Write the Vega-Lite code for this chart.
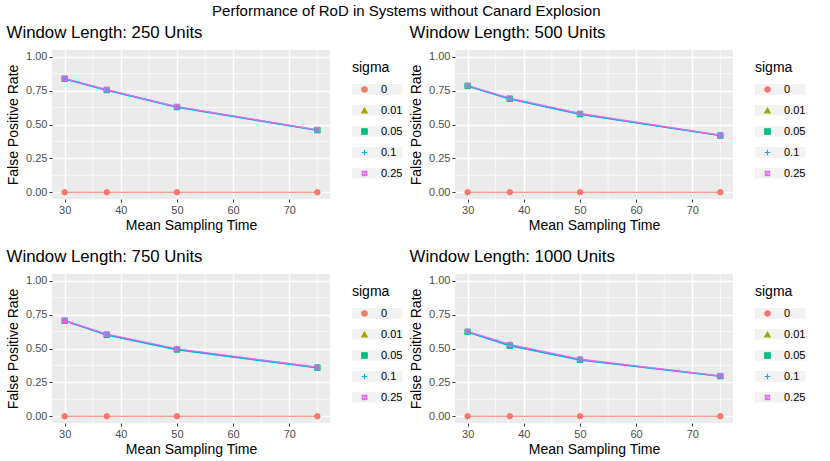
{
  "$schema": "https://vega.github.io/schema/vega-lite/v6.json",
  "title": {"text": "Performance of RoD in Systems without Canard Explosion", "anchor": "middle", "fontSize": 15, "offset": 6},
  "padding": {"left": 6, "top": 3, "right": 5, "bottom": 5},
  "datasets": {
    "minx": [{"v": 35}, {"v": 45}, {"v": 55}, {"v": 65}, {"v": 75}],
    "miny": [{"v": 0.125}, {"v": 0.375}, {"v": 0.625}, {"v": 0.875}],
    "fpr": [
      {"w": 250, "t": 30, "s": "0", "r": 0}, {"w": 250, "t": 37.5, "s": "0", "r": 0}, {"w": 250, "t": 50, "s": "0", "r": 0}, {"w": 250, "t": 75, "s": "0", "r": 0},
      {"w": 250, "t": 30, "s": "0.01", "r": 0.838}, {"w": 250, "t": 37.5, "s": "0.01", "r": 0.756}, {"w": 250, "t": 50, "s": "0.01", "r": 0.630}, {"w": 250, "t": 75, "s": "0.01", "r": 0.459},
      {"w": 250, "t": 30, "s": "0.05", "r": 0.838}, {"w": 250, "t": 37.5, "s": "0.05", "r": 0.755}, {"w": 250, "t": 50, "s": "0.05", "r": 0.629}, {"w": 250, "t": 75, "s": "0.05", "r": 0.459},
      {"w": 250, "t": 30, "s": "0.1", "r": 0.835}, {"w": 250, "t": 37.5, "s": "0.1", "r": 0.752}, {"w": 250, "t": 50, "s": "0.1", "r": 0.626}, {"w": 250, "t": 75, "s": "0.1", "r": 0.456},
      {"w": 250, "t": 30, "s": "0.25", "r": 0.840}, {"w": 250, "t": 37.5, "s": "0.25", "r": 0.758}, {"w": 250, "t": 50, "s": "0.25", "r": 0.632}, {"w": 250, "t": 75, "s": "0.25", "r": 0.461},
      {"w": 500, "t": 30, "s": "0", "r": 0}, {"w": 500, "t": 37.5, "s": "0", "r": 0}, {"w": 500, "t": 50, "s": "0", "r": 0}, {"w": 500, "t": 75, "s": "0", "r": 0},
      {"w": 500, "t": 30, "s": "0.01", "r": 0.786}, {"w": 500, "t": 37.5, "s": "0.01", "r": 0.692}, {"w": 500, "t": 50, "s": "0.01", "r": 0.578}, {"w": 500, "t": 75, "s": "0.01", "r": 0.420},
      {"w": 500, "t": 30, "s": "0.05", "r": 0.785}, {"w": 500, "t": 37.5, "s": "0.05", "r": 0.690}, {"w": 500, "t": 50, "s": "0.05", "r": 0.577}, {"w": 500, "t": 75, "s": "0.05", "r": 0.419},
      {"w": 500, "t": 30, "s": "0.1", "r": 0.783}, {"w": 500, "t": 37.5, "s": "0.1", "r": 0.687}, {"w": 500, "t": 50, "s": "0.1", "r": 0.574}, {"w": 500, "t": 75, "s": "0.1", "r": 0.418},
      {"w": 500, "t": 30, "s": "0.25", "r": 0.788}, {"w": 500, "t": 37.5, "s": "0.25", "r": 0.695}, {"w": 500, "t": 50, "s": "0.25", "r": 0.582}, {"w": 500, "t": 75, "s": "0.25", "r": 0.421},
      {"w": 750, "t": 30, "s": "0", "r": 0}, {"w": 750, "t": 37.5, "s": "0", "r": 0}, {"w": 750, "t": 50, "s": "0", "r": 0}, {"w": 750, "t": 75, "s": "0", "r": 0},
      {"w": 750, "t": 30, "s": "0.01", "r": 0.706}, {"w": 750, "t": 37.5, "s": "0.01", "r": 0.603}, {"w": 750, "t": 50, "s": "0.01", "r": 0.494}, {"w": 750, "t": 75, "s": "0.01", "r": 0.360},
      {"w": 750, "t": 30, "s": "0.05", "r": 0.705}, {"w": 750, "t": 37.5, "s": "0.05", "r": 0.602}, {"w": 750, "t": 50, "s": "0.05", "r": 0.493}, {"w": 750, "t": 75, "s": "0.05", "r": 0.359},
      {"w": 750, "t": 30, "s": "0.1", "r": 0.703}, {"w": 750, "t": 37.5, "s": "0.1", "r": 0.599}, {"w": 750, "t": 50, "s": "0.1", "r": 0.490}, {"w": 750, "t": 75, "s": "0.1", "r": 0.356},
      {"w": 750, "t": 30, "s": "0.25", "r": 0.708}, {"w": 750, "t": 37.5, "s": "0.25", "r": 0.606}, {"w": 750, "t": 50, "s": "0.25", "r": 0.498}, {"w": 750, "t": 75, "s": "0.25", "r": 0.362},
      {"w": 1000, "t": 30, "s": "0", "r": 0}, {"w": 1000, "t": 37.5, "s": "0", "r": 0}, {"w": 1000, "t": 50, "s": "0", "r": 0}, {"w": 1000, "t": 75, "s": "0", "r": 0},
      {"w": 1000, "t": 30, "s": "0.01", "r": 0.624}, {"w": 1000, "t": 37.5, "s": "0.01", "r": 0.524}, {"w": 1000, "t": 50, "s": "0.01", "r": 0.418}, {"w": 1000, "t": 75, "s": "0.01", "r": 0.297},
      {"w": 1000, "t": 30, "s": "0.05", "r": 0.623}, {"w": 1000, "t": 37.5, "s": "0.05", "r": 0.522}, {"w": 1000, "t": 50, "s": "0.05", "r": 0.417}, {"w": 1000, "t": 75, "s": "0.05", "r": 0.296},
      {"w": 1000, "t": 30, "s": "0.1", "r": 0.621}, {"w": 1000, "t": 37.5, "s": "0.1", "r": 0.519}, {"w": 1000, "t": 50, "s": "0.1", "r": 0.414}, {"w": 1000, "t": 75, "s": "0.1", "r": 0.294},
      {"w": 1000, "t": 30, "s": "0.25", "r": 0.626}, {"w": 1000, "t": 37.5, "s": "0.25", "r": 0.530}, {"w": 1000, "t": 50, "s": "0.25", "r": 0.422}, {"w": 1000, "t": 75, "s": "0.25", "r": 0.298}
    ]
  },
  "columns": 2,
  "spacing": {"row": 16, "column": 6},
  "resolve": {"scale": {"stroke": "independent", "fill": "independent", "shape": "independent"}},
  "concat": [
    {
      "title": "Window Length: 250 Units",
      "width": 278, "height": 149,
      "layer": [
        {"data": {"name": "minx"}, "mark": {"type": "rule", "color": "white", "strokeWidth": 0.7},
         "encoding": {"x": {"field": "v", "type": "quantitative", "title": "Mean Sampling Time", "scale": {"domain": [27.75, 77.25], "nice": false, "zero": false}, "axis": {"values": [30, 40, 50, 60, 70]}}}},
        {"data": {"name": "miny"}, "mark": {"type": "rule", "color": "white", "strokeWidth": 0.7},
         "encoding": {"y": {"field": "v", "type": "quantitative", "title": "False Positive Rate", "scale": {"domain": [-0.05, 1.05], "nice": false, "zero": false}, "axis": {"values": [0, 0.25, 0.5, 0.75, 1], "format": ".2f"}}}},
        {"data": {"name": "fpr"}, "transform": [{"filter": "datum.w == 250"}], "mark": {"type": "line", "strokeWidth": 1.2},
         "encoding": {
           "x": {"field": "t", "type": "quantitative", "title": "Mean Sampling Time", "scale": {"domain": [27.75, 77.25], "nice": false, "zero": false}, "axis": {"values": [30, 40, 50, 60, 70]}},
           "y": {"field": "r", "type": "quantitative", "title": "False Positive Rate", "scale": {"domain": [-0.05, 1.05], "nice": false, "zero": false}, "axis": {"values": [0, 0.25, 0.5, 0.75, 1], "format": ".2f"}},
           "stroke": {"field": "s", "type": "nominal", "title": "sigma", "scale": {"domain": ["0", "0.01", "0.05", "0.1", "0.25"], "range": ["#F8766D", "#A3A500", "#00BF7D", "#00B0F6", "#E76BF3"]},
             "legend": {"orient": "none", "legendX": 300, "legendY": 11, "symbolSize": 30, "symbolStrokeWidth": 1.2, "symbolOffset": 7,
               "encode": {"entries": {"update": {"fill": {"value": "#F2F2F2"}, "width": {"value": 20}, "height": {"value": 20}}}}}}
         }},
        {"data": {"name": "fpr"}, "transform": [{"filter": "datum.w == 250"}], "mark": {"type": "point", "size": 30, "strokeWidth": 1, "opacity": 1},
         "encoding": {
           "x": {"field": "t", "type": "quantitative", "title": "Mean Sampling Time", "scale": {"domain": [27.75, 77.25], "nice": false, "zero": false}, "axis": {"values": [30, 40, 50, 60, 70]}},
           "y": {"field": "r", "type": "quantitative", "title": "False Positive Rate", "scale": {"domain": [-0.05, 1.05], "nice": false, "zero": false}, "axis": {"values": [0, 0.25, 0.5, 0.75, 1], "format": ".2f"}},
           "stroke": {"field": "s", "type": "nominal", "title": "sigma"},
           "fill": {"field": "s", "type": "nominal", "legend": null, "scale": {"domain": ["0", "0.01", "0.05", "0.1", "0.25"], "range": ["#F8766D", "#A3A500", "#00BF7D", "transparent", "transparent"]}},
           "shape": {"field": "s", "type": "nominal", "legend": null, "scale": {"domain": ["0", "0.01", "0.05", "0.1", "0.25"], "range": ["circle", "triangle-up", "square", "M-1,0L1,0M0,-1L0,1", "M-0.8,-0.8L0.8,-0.8L0.8,0.8L-0.8,0.8ZM-0.8,-0.8L0.8,0.8M0.8,-0.8L-0.8,0.8"]}}
         }}
      ]
    },
    {
      "title": "Window Length: 500 Units",
      "width": 278, "height": 149,
      "layer": [
        {"data": {"name": "minx"}, "mark": {"type": "rule", "color": "white", "strokeWidth": 0.7},
         "encoding": {"x": {"field": "v", "type": "quantitative", "title": "Mean Sampling Time", "scale": {"domain": [27.75, 77.25], "nice": false, "zero": false}, "axis": {"values": [30, 40, 50, 60, 70]}}}},
        {"data": {"name": "miny"}, "mark": {"type": "rule", "color": "white", "strokeWidth": 0.7},
         "encoding": {"y": {"field": "v", "type": "quantitative", "title": "False Positive Rate", "scale": {"domain": [-0.05, 1.05], "nice": false, "zero": false}, "axis": {"values": [0, 0.25, 0.5, 0.75, 1], "format": ".2f"}}}},
        {"data": {"name": "fpr"}, "transform": [{"filter": "datum.w == 500"}], "mark": {"type": "line", "strokeWidth": 1.2},
         "encoding": {
           "x": {"field": "t", "type": "quantitative", "title": "Mean Sampling Time", "scale": {"domain": [27.75, 77.25], "nice": false, "zero": false}, "axis": {"values": [30, 40, 50, 60, 70]}},
           "y": {"field": "r", "type": "quantitative", "title": "False Positive Rate", "scale": {"domain": [-0.05, 1.05], "nice": false, "zero": false}, "axis": {"values": [0, 0.25, 0.5, 0.75, 1], "format": ".2f"}},
           "stroke": {"field": "s", "type": "nominal", "title": "sigma", "scale": {"domain": ["0", "0.01", "0.05", "0.1", "0.25"], "range": ["#F8766D", "#A3A500", "#00BF7D", "#00B0F6", "#E76BF3"]},
             "legend": {"orient": "none", "legendX": 300, "legendY": 11, "symbolSize": 30, "symbolStrokeWidth": 1.2, "symbolOffset": 7,
               "encode": {"entries": {"update": {"fill": {"value": "#F2F2F2"}, "width": {"value": 20}, "height": {"value": 20}}}}}}
         }},
        {"data": {"name": "fpr"}, "transform": [{"filter": "datum.w == 500"}], "mark": {"type": "point", "size": 30, "strokeWidth": 1, "opacity": 1},
         "encoding": {
           "x": {"field": "t", "type": "quantitative", "title": "Mean Sampling Time", "scale": {"domain": [27.75, 77.25], "nice": false, "zero": false}, "axis": {"values": [30, 40, 50, 60, 70]}},
           "y": {"field": "r", "type": "quantitative", "title": "False Positive Rate", "scale": {"domain": [-0.05, 1.05], "nice": false, "zero": false}, "axis": {"values": [0, 0.25, 0.5, 0.75, 1], "format": ".2f"}},
           "stroke": {"field": "s", "type": "nominal", "title": "sigma"},
           "fill": {"field": "s", "type": "nominal", "legend": null, "scale": {"domain": ["0", "0.01", "0.05", "0.1", "0.25"], "range": ["#F8766D", "#A3A500", "#00BF7D", "transparent", "transparent"]}},
           "shape": {"field": "s", "type": "nominal", "legend": null, "scale": {"domain": ["0", "0.01", "0.05", "0.1", "0.25"], "range": ["circle", "triangle-up", "square", "M-1,0L1,0M0,-1L0,1", "M-0.8,-0.8L0.8,-0.8L0.8,0.8L-0.8,0.8ZM-0.8,-0.8L0.8,0.8M0.8,-0.8L-0.8,0.8"]}}
         }}
      ]
    },
    {
      "title": "Window Length: 750 Units",
      "width": 278, "height": 149,
      "layer": [
        {"data": {"name": "minx"}, "mark": {"type": "rule", "color": "white", "strokeWidth": 0.7},
         "encoding": {"x": {"field": "v", "type": "quantitative", "title": "Mean Sampling Time", "scale": {"domain": [27.75, 77.25], "nice": false, "zero": false}, "axis": {"values": [30, 40, 50, 60, 70]}}}},
        {"data": {"name": "miny"}, "mark": {"type": "rule", "color": "white", "strokeWidth": 0.7},
         "encoding": {"y": {"field": "v", "type": "quantitative", "title": "False Positive Rate", "scale": {"domain": [-0.05, 1.05], "nice": false, "zero": false}, "axis": {"values": [0, 0.25, 0.5, 0.75, 1], "format": ".2f"}}}},
        {"data": {"name": "fpr"}, "transform": [{"filter": "datum.w == 750"}], "mark": {"type": "line", "strokeWidth": 1.2},
         "encoding": {
           "x": {"field": "t", "type": "quantitative", "title": "Mean Sampling Time", "scale": {"domain": [27.75, 77.25], "nice": false, "zero": false}, "axis": {"values": [30, 40, 50, 60, 70]}},
           "y": {"field": "r", "type": "quantitative", "title": "False Positive Rate", "scale": {"domain": [-0.05, 1.05], "nice": false, "zero": false}, "axis": {"values": [0, 0.25, 0.5, 0.75, 1], "format": ".2f"}},
           "stroke": {"field": "s", "type": "nominal", "title": "sigma", "scale": {"domain": ["0", "0.01", "0.05", "0.1", "0.25"], "range": ["#F8766D", "#A3A500", "#00BF7D", "#00B0F6", "#E76BF3"]},
             "legend": {"orient": "none", "legendX": 300, "legendY": 11, "symbolSize": 30, "symbolStrokeWidth": 1.2, "symbolOffset": 7,
               "encode": {"entries": {"update": {"fill": {"value": "#F2F2F2"}, "width": {"value": 20}, "height": {"value": 20}}}}}}
         }},
        {"data": {"name": "fpr"}, "transform": [{"filter": "datum.w == 750"}], "mark": {"type": "point", "size": 30, "strokeWidth": 1, "opacity": 1},
         "encoding": {
           "x": {"field": "t", "type": "quantitative", "title": "Mean Sampling Time", "scale": {"domain": [27.75, 77.25], "nice": false, "zero": false}, "axis": {"values": [30, 40, 50, 60, 70]}},
           "y": {"field": "r", "type": "quantitative", "title": "False Positive Rate", "scale": {"domain": [-0.05, 1.05], "nice": false, "zero": false}, "axis": {"values": [0, 0.25, 0.5, 0.75, 1], "format": ".2f"}},
           "stroke": {"field": "s", "type": "nominal", "title": "sigma"},
           "fill": {"field": "s", "type": "nominal", "legend": null, "scale": {"domain": ["0", "0.01", "0.05", "0.1", "0.25"], "range": ["#F8766D", "#A3A500", "#00BF7D", "transparent", "transparent"]}},
           "shape": {"field": "s", "type": "nominal", "legend": null, "scale": {"domain": ["0", "0.01", "0.05", "0.1", "0.25"], "range": ["circle", "triangle-up", "square", "M-1,0L1,0M0,-1L0,1", "M-0.8,-0.8L0.8,-0.8L0.8,0.8L-0.8,0.8ZM-0.8,-0.8L0.8,0.8M0.8,-0.8L-0.8,0.8"]}}
         }}
      ]
    },
    {
      "title": "Window Length: 1000 Units",
      "width": 278, "height": 149,
      "layer": [
        {"data": {"name": "minx"}, "mark": {"type": "rule", "color": "white", "strokeWidth": 0.7},
         "encoding": {"x": {"field": "v", "type": "quantitative", "title": "Mean Sampling Time", "scale": {"domain": [27.75, 77.25], "nice": false, "zero": false}, "axis": {"values": [30, 40, 50, 60, 70]}}}},
        {"data": {"name": "miny"}, "mark": {"type": "rule", "color": "white", "strokeWidth": 0.7},
         "encoding": {"y": {"field": "v", "type": "quantitative", "title": "False Positive Rate", "scale": {"domain": [-0.05, 1.05], "nice": false, "zero": false}, "axis": {"values": [0, 0.25, 0.5, 0.75, 1], "format": ".2f"}}}},
        {"data": {"name": "fpr"}, "transform": [{"filter": "datum.w == 1000"}], "mark": {"type": "line", "strokeWidth": 1.2},
         "encoding": {
           "x": {"field": "t", "type": "quantitative", "title": "Mean Sampling Time", "scale": {"domain": [27.75, 77.25], "nice": false, "zero": false}, "axis": {"values": [30, 40, 50, 60, 70]}},
           "y": {"field": "r", "type": "quantitative", "title": "False Positive Rate", "scale": {"domain": [-0.05, 1.05], "nice": false, "zero": false}, "axis": {"values": [0, 0.25, 0.5, 0.75, 1], "format": ".2f"}},
           "stroke": {"field": "s", "type": "nominal", "title": "sigma", "scale": {"domain": ["0", "0.01", "0.05", "0.1", "0.25"], "range": ["#F8766D", "#A3A500", "#00BF7D", "#00B0F6", "#E76BF3"]},
             "legend": {"orient": "none", "legendX": 300, "legendY": 11, "symbolSize": 30, "symbolStrokeWidth": 1.2, "symbolOffset": 7,
               "encode": {"entries": {"update": {"fill": {"value": "#F2F2F2"}, "width": {"value": 20}, "height": {"value": 20}}}}}}
         }},
        {"data": {"name": "fpr"}, "transform": [{"filter": "datum.w == 1000"}], "mark": {"type": "point", "size": 30, "strokeWidth": 1, "opacity": 1},
         "encoding": {
           "x": {"field": "t", "type": "quantitative", "title": "Mean Sampling Time", "scale": {"domain": [27.75, 77.25], "nice": false, "zero": false}, "axis": {"values": [30, 40, 50, 60, 70]}},
           "y": {"field": "r", "type": "quantitative", "title": "False Positive Rate", "scale": {"domain": [-0.05, 1.05], "nice": false, "zero": false}, "axis": {"values": [0, 0.25, 0.5, 0.75, 1], "format": ".2f"}},
           "stroke": {"field": "s", "type": "nominal", "title": "sigma"},
           "fill": {"field": "s", "type": "nominal", "legend": null, "scale": {"domain": ["0", "0.01", "0.05", "0.1", "0.25"], "range": ["#F8766D", "#A3A500", "#00BF7D", "transparent", "transparent"]}},
           "shape": {"field": "s", "type": "nominal", "legend": null, "scale": {"domain": ["0", "0.01", "0.05", "0.1", "0.25"], "range": ["circle", "triangle-up", "square", "M-1,0L1,0M0,-1L0,1", "M-0.8,-0.8L0.8,-0.8L0.8,0.8L-0.8,0.8ZM-0.8,-0.8L0.8,0.8M0.8,-0.8L-0.8,0.8"]}}
         }}
      ]
    }
  ],
  "config": {
    "font": "Liberation Sans",
    "background": "white",
    "view": {"fill": "#EBEBEB", "stroke": null},
    "axis": {"domain": false, "grid": true, "gridColor": "white", "gridWidth": 1.4, "tickColor": "#333333", "tickSize": 3, "tickWidth": 1,
      "labelColor": "#4D4D4D", "labelFontSize": 11, "labelPadding": 2, "titleFontSize": 14, "titleFontWeight": "normal", "titleColor": "black", "labelOverlap": false},
    "axisX": {"titlePadding": 3},
    "axisY": {"titlePadding": 5},
    "title": {"fontSize": 16.8, "fontWeight": "normal", "anchor": "start", "color": "black", "offset": 8},
    "legend": {"titleFontSize": 14, "titleFontWeight": "normal", "titleColor": "black", "labelFontSize": 11, "labelColor": "black", "rowPadding": 9, "labelOffset": 11, "titlePadding": 9}
  }
}
